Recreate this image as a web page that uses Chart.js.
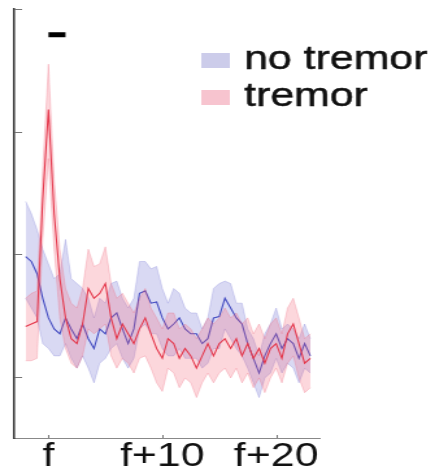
<!DOCTYPE html>
<html>
<head>
<meta charset="utf-8">
<script src="https://cdn.jsdelivr.net/npm/chart.js@4"></script>
<style>
  html, body { margin: 0; padding: 0; background: #fff; overflow: hidden; }
  /* the original figure is stretched sideways, so draw narrow and scale it */
  #wrap { width: 335px; height: 476px; transform: scaleX(1.2985); transform-origin: 0 0; }
</style>
</head>
<body>
<div id="wrap"><canvas id="chart"></canvas></div>
<script>
// frequency offsets from f (Hz)
const freqs = [-2, -1.5, -1, -0.5, 0, 0.5, 1, 1.5, 2, 2.5, 3, 3.5, 4, 4.5, 5, 5.5, 6, 6.5, 7, 7.5,
  8, 8.5, 9, 9.5, 10, 10.5, 11, 11.5, 12, 12.5, 13, 13.5, 14, 14.5, 15, 15.5, 16, 16.5, 17, 17.5,
  18, 18.5, 19, 19.5, 20, 20.5, 21, 21.5, 22, 22.5, 23];

const blueMean = [14.8, 14.4, 13.4, 11.4, 9.8, 8.9, 8.5, 9.8, 8.9, 8.1, 9.3, 8.1, 7.3, 8.9, 8.5, 9.8, 10.2, 8.9, 7.7, 8.9,
  11.8, 12.0, 11.0, 11.1, 9.8, 8.9, 9.3, 9.8, 8.9, 8.5, 8.5, 7.7, 8.1, 9.8, 9.9, 11.4, 10.6, 9.8, 9.3, 7.7,
  6.5, 5.3, 6.7, 7.7, 8.5, 7.3, 8.1, 7.7, 6.5, 7.7, 6.7];
const blueUpper = [19.3, 18.3, 17.0, 15.4, 14.2, 13.0, 13.4, 16.2, 13.0, 12.6, 12.2, 11.4, 9.8, 11.4, 11.0, 12.6, 12.8, 11.4, 10.6, 11.4,
  14.4, 14.4, 13.8, 14.0, 12.2, 11.0, 12.2, 11.8, 10.6, 10.2, 10.2, 8.9, 9.8, 12.2, 12.6, 12.8, 12.6, 11.0, 11.0, 8.9,
  8.1, 6.7, 8.5, 9.3, 10.6, 8.9, 9.3, 8.9, 8.1, 9.3, 8.1];
const blueLower = [11.4, 10.6, 9.8, 7.7, 7.3, 6.7, 6.7, 7.7, 6.5, 5.7, 6.7, 5.7, 4.5, 6.1, 6.5, 7.3, 7.7, 6.5, 5.7, 6.5,
  8.9, 9.3, 8.5, 8.5, 7.3, 6.7, 6.7, 7.3, 6.5, 6.5, 6.5, 5.7, 6.1, 7.3, 7.3, 8.9, 8.1, 7.3, 6.7, 5.7,
  4.5, 3.3, 4.9, 5.3, 6.5, 5.3, 6.1, 5.7, 4.5, 5.7, 5.3];

const redMean = [9.1, 9.3, 9.5, 19.5, 26.8, 18.3, 13.0, 9.8, 8.1, 7.7, 9.3, 12.2, 11.4, 11.8, 12.6, 9.8, 8.1, 9.3, 8.5, 7.7,
  8.9, 9.8, 8.5, 7.3, 6.5, 8.1, 7.7, 6.5, 7.3, 6.7, 5.7, 6.7, 7.7, 6.7, 7.7, 8.1, 7.3, 8.1, 6.7, 7.7,
  6.5, 7.3, 6.1, 7.3, 7.7, 6.5, 8.5, 9.3, 7.7, 6.1, 6.5];
const redUpper = [11.4, 11.8, 12.0, 22.0, 30.5, 21.1, 15.4, 12.2, 11.0, 10.6, 12.2, 15.4, 14.0, 14.2, 15.6, 12.6, 11.4, 11.8, 11.0, 10.2,
  11.4, 12.2, 10.6, 9.8, 8.9, 10.2, 10.2, 8.9, 9.3, 8.9, 8.1, 8.9, 9.8, 9.3, 9.8, 10.6, 9.8, 10.2, 9.3, 9.8,
  8.5, 9.3, 8.1, 9.3, 9.8, 8.5, 10.6, 11.4, 9.8, 8.1, 8.5];
const redLower = [6.3, 6.3, 6.5, 16.2, 22.8, 15.4, 9.8, 7.3, 6.1, 5.7, 6.7, 8.9, 8.5, 8.9, 9.3, 6.7, 5.7, 6.5, 6.1, 5.3,
  6.5, 6.7, 5.7, 4.5, 3.8, 5.7, 5.3, 4.1, 4.9, 4.5, 3.3, 4.5, 5.3, 4.5, 5.3, 5.7, 4.9, 5.7, 4.5, 5.3,
  4.1, 4.9, 3.7, 4.9, 5.7, 4.5, 6.1, 6.7, 4.9, 3.7, 4.1];

// significance bar above the peak
const sigFreqs = [0, 1.5];
const sigLevel = 32.9;

const xTickValues = [0, 10, 20];
const xLabels = ['f', 'f+10', 'f+20'];
const yTickValues = [5, 15, 25, 35];

const legendLabels = ['no tremor', 'tremor'];
const legendColors = ['rgb(204, 204, 234)', 'rgb(247, 196, 207)'];

const pts = ys => freqs.map((f, i) => ({x: f, y: ys[i]}));

const tickMarks = {
  id: 'tickMarks',
  afterDraw(chart) {
    const {ctx, chartArea, scales: {x, y}} = chart;
    ctx.save();
    ctx.strokeStyle = '#777';
    ctx.lineWidth = 1;
    yTickValues.forEach(v => {
      const py = Math.round(y.getPixelForValue(v)) + 0.5;
      ctx.beginPath();
      ctx.moveTo(chartArea.left, py);
      ctx.lineTo(chartArea.left + 6, py);
      ctx.stroke();
    });
    xTickValues.forEach(v => {
      const px = Math.round(x.getPixelForValue(v)) + 0.5;
      ctx.beginPath();
      ctx.moveTo(px, chartArea.bottom);
      ctx.lineTo(px, chartArea.bottom - 3);
      ctx.stroke();
    });
    ctx.restore();
  }
};

const legendBox = {
  id: 'legendBox',
  afterDraw(chart) {
    const ctx = chart.ctx;
    ctx.save();
    ctx.font = '33px "Liberation Sans", Arial, sans-serif';
    ctx.textBaseline = 'alphabetic';
    legendLabels.forEach((label, i) => {
      const top = 53 + i * 37;
      ctx.fillStyle = legendColors[i];
      ctx.fillRect(155, top, 22, 15);
      ctx.fillStyle = '#111';
      ctx.strokeStyle = '#111';
      ctx.lineWidth = 0.5;
      ctx.fillText(label, 188, top + 16);
      ctx.strokeText(label, 188, top + 16);
    });
    ctx.restore();
  }
};

new Chart(document.getElementById('chart'), {
  type: 'line',
  data: {
    datasets: [
      {label: 'tremor', data: pts(redMean), borderColor: 'rgb(228, 56, 76)', borderWidth: 1.1},
      {label: 'tremor upper', data: pts(redUpper), borderColor: 'rgba(235, 100, 120, 0.35)', borderWidth: 0.8,
        fill: '+1', backgroundColor: 'rgba(242, 100, 120, 0.26)'},
      {label: 'tremor lower', data: pts(redLower), borderColor: 'rgba(235, 100, 120, 0.35)', borderWidth: 0.8},
      {label: 'no tremor', data: pts(blueMean), borderColor: 'rgb(66, 74, 192)', borderWidth: 1.1},
      {label: 'no tremor upper', data: pts(blueUpper), borderColor: 'rgba(115, 115, 210, 0.35)', borderWidth: 0.8,
        fill: '+1', backgroundColor: 'rgba(110, 110, 210, 0.26)'},
      {label: 'no tremor lower', data: pts(blueLower), borderColor: 'rgba(115, 115, 210, 0.35)', borderWidth: 0.8},
      {label: 'sig', data: sigFreqs.map(f => ({x: f, y: sigLevel})), borderColor: '#000', borderWidth: 5,
        borderCapStyle: 'butt'}
    ]
  },
  options: {
    responsive: true,
    maintainAspectRatio: false,
    animation: false,
    elements: {point: {radius: 0}, line: {tension: 0}},
    layout: {padding: {left: 11, right: 89, top: 9, bottom: 1}},
    plugins: {legend: {display: false}, tooltip: {enabled: false}},
    scales: {
      x: {
        type: 'linear',
        min: -3,
        max: 23.8,
        grid: {display: false, drawTicks: false},
        border: {display: true, color: '#888', width: 1},
        afterBuildTicks: scale => { scale.ticks = xTickValues.map(v => ({value: v})); },
        ticks: {
          autoSkip: false,
          maxRotation: 0,
          padding: 2,
          color: '#111',
          font: {family: '"Liberation Sans", Arial, sans-serif', size: 33, lineHeight: 1},
          callback: v => xLabels[xTickValues.indexOf(v)]
        }
      },
      y: {
        min: 0,
        max: 35,
        grid: {display: false, drawTicks: false},
        border: {display: true, color: '#333', width: 1.5},
        afterBuildTicks: scale => { scale.ticks = yTickValues.map(v => ({value: v})); },
        ticks: {display: false}
      }
    }
  },
  plugins: [tickMarks, legendBox]
});
</script>
</body>
</html>
